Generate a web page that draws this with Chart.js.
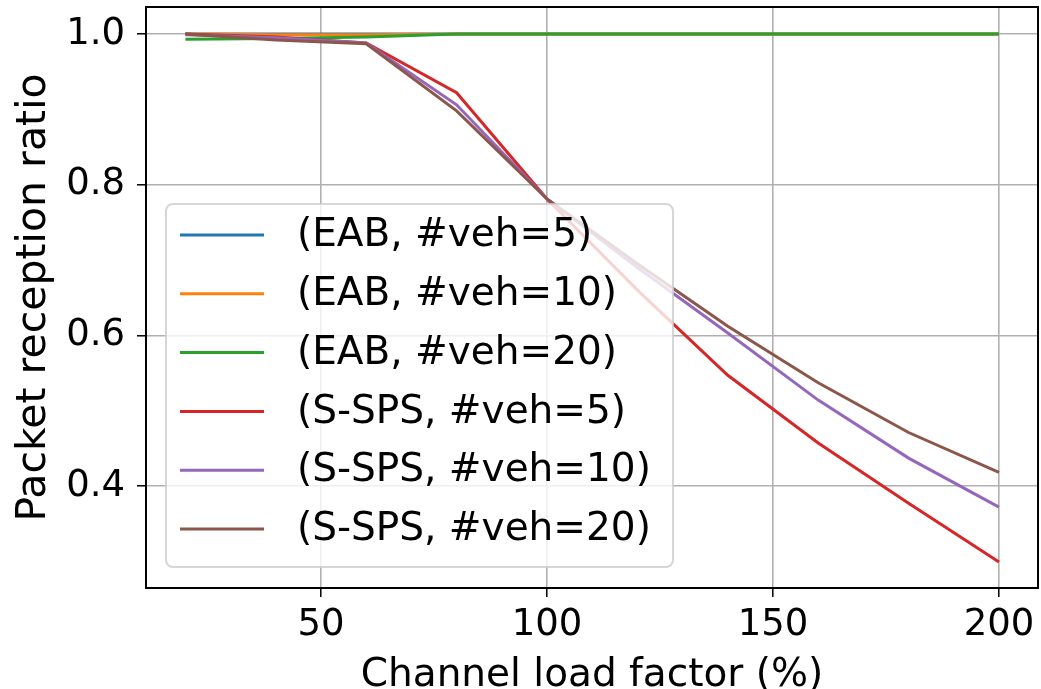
<!DOCTYPE html>
<html>
<head>
<meta charset="utf-8">
<script src="https://cdn.jsdelivr.net/npm/chart.js@4"></script>
<style>
  html, body { margin: 0; padding: 0; background: #fff; overflow: hidden; }
  #wrap { width: 1041px; height: 689px; position: relative; }
</style>
</head>
<body>
<div id="wrap"><canvas id="chart"></canvas></div>
<script>
"use strict";

// channel load factor (%) on the x axis
var loadFactor = [20, 40, 60, 80, 100, 120, 140, 160, 180, 200];

// packet reception ratio per scheme
var eabVeh5 = [1.0, 1.0, 1.0, 1.0, 1.0, 1.0, 1.0, 1.0, 1.0, 1.0];
var eabVeh10 = [1.0, 0.999, 0.999, 1.0, 1.0, 1.0, 1.0, 1.0, 1.0, 1.0];
var eabVeh20 = [0.993, 0.994, 0.996, 1.0, 1.0, 1.0, 1.0, 1.0, 1.0, 1.0];
var spsVeh5 = [1.0, 0.996, 0.988, 0.922, 0.781, 0.66, 0.547, 0.457, 0.377, 0.299];
var spsVeh10 = [0.999, 0.995, 0.988, 0.906, 0.781, 0.69, 0.603, 0.514, 0.437, 0.372];
var spsVeh20 = [1.0, 0.992, 0.987, 0.898, 0.781, 0.695, 0.612, 0.537, 0.471, 0.418];

var seriesLabels = [
  "(EAB, #veh=5)",
  "(EAB, #veh=10)",
  "(EAB, #veh=20)",
  "(S-SPS, #veh=5)",
  "(S-SPS, #veh=10)",
  "(S-SPS, #veh=20)",
];
var seriesColors = ["#1f77b4", "#ff7f0e", "#2ca02c", "#d62728", "#9467bd", "#8c564b"];

var xTicks = [50, 100, 150, 200];
var yTicks = [0.4, 0.6, 0.8, 1.0];

var FONT = "'DejaVu Sans', 'Liberation Sans', sans-serif";

function toPoints(values) {
  return values.map(function (v, i) {
    return { x: loadFactor[i], y: v };
  });
}

var allSeries = [eabVeh5, eabVeh10, eabVeh20, spsVeh5, spsVeh10, spsVeh20];

var datasets = allSeries.map(function (values, i) {
  return {
    label: seriesLabels[i],
    data: toPoints(values),
    borderColor: seriesColors[i],
    backgroundColor: seriesColors[i],
    borderWidth: 3,
    pointRadius: 0,
    tension: 0,
    fill: false,
    // later series drawn on top, like matplotlib
    order: allSeries.length - 1 - i,
  };
});

// legend box inside the plot + black frame around it
var boxLegend = {
  id: "boxLegend",
  afterDatasetsDraw: function (chart) {
    var c = chart.ctx;
    var x0 = 166, y0 = 204, w = 507, h = 363, r = 7;
    c.save();
    c.beginPath();
    c.moveTo(x0 + r, y0);
    c.arcTo(x0 + w, y0, x0 + w, y0 + h, r);
    c.arcTo(x0 + w, y0 + h, x0, y0 + h, r);
    c.arcTo(x0, y0 + h, x0, y0, r);
    c.arcTo(x0, y0, x0 + w, y0, r);
    c.closePath();
    c.fillStyle = "rgba(255,255,255,0.8)";
    c.fill();
    c.lineWidth = 2;
    c.strokeStyle = "rgba(204,204,204,0.8)";
    c.stroke();

    c.font = "39px " + FONT;
    c.textBaseline = "middle";
    c.textAlign = "left";
    chart.data.datasets.forEach(function (ds, i) {
      var y = 235 + i * 58.8;
      c.beginPath();
      c.moveTo(180, y);
      c.lineTo(264, y);
      c.lineWidth = 3;
      c.strokeStyle = ds.borderColor;
      c.stroke();
      c.fillStyle = "#000";
      c.fillText(ds.label, 297, y + 1);
    });
    c.restore();
  },
  afterDraw: function (chart) {
    var a = chart.chartArea;
    var c = chart.ctx;
    c.save();
    c.lineWidth = 2;
    c.strokeStyle = "#000";
    c.strokeRect(a.left, a.top, a.right - a.left, a.bottom - a.top);
    c.restore();
  },
};

var ctx = document.getElementById("chart");

var myChart = new Chart(ctx, {
  type: "line",
  data: { datasets: datasets },
  plugins: [boxLegend],
  options: {
    responsive: true,
    maintainAspectRatio: false,
    animation: false,
    layout: { padding: { top: 7, right: 3, left: 0, bottom: 0 } },
    plugins: {
      legend: { display: false },
      tooltip: { enabled: false },
    },
    scales: {
      x: {
        type: "linear",
        min: 11.28,
        max: 208.63,
        afterFit: function (scale) {
          scale.height = 101;
          scale.paddingLeft = 0;
          scale.paddingRight = 0;
        },
        afterBuildTicks: function (scale) {
          scale.ticks = xTicks.map(function (v) {
            return { value: v };
          });
        },
        ticks: {
          color: "#000",
          font: { family: FONT, size: 37 },
          padding: 6,
          maxRotation: 0,
          callback: function (v) {
            return String(v);
          },
        },
        grid: {
          color: "#b0b0b0",
          lineWidth: 1.6,
          tickColor: "#000",
          tickLength: 9,
          tickWidth: 1.5,
        },
        border: { display: false },
        title: {
          display: true,
          text: "Channel load factor (%)",
          color: "#000",
          font: { family: FONT, size: 39 },
          padding: { top: 0, bottom: -10 },
        },
      },
      y: {
        type: "linear",
        min: 0.2646,
        max: 1.0358,
        afterFit: function (scale) {
          scale.width = 146;
          // keep the plot top where the reference has it
          scale.paddingTop = 0;
          scale.paddingBottom = 0;
        },
        afterBuildTicks: function (scale) {
          scale.ticks = yTicks.map(function (v) {
            return { value: v };
          });
        },
        ticks: {
          color: "#000",
          font: { family: FONT, size: 37 },
          padding: 12,
          callback: function (v) {
            return v.toFixed(1);
          },
        },
        grid: {
          color: "#b0b0b0",
          lineWidth: 1.6,
          tickColor: "#000",
          tickLength: 9,
          tickWidth: 1.5,
        },
        border: { display: false },
        title: {
          display: true,
          text: "Packet reception ratio",
          color: "#000",
          font: { family: FONT, size: 41 },
          padding: { top: 10, bottom: 0 },
        },
      },
    },
  },
});
</script>
</body>
</html>
